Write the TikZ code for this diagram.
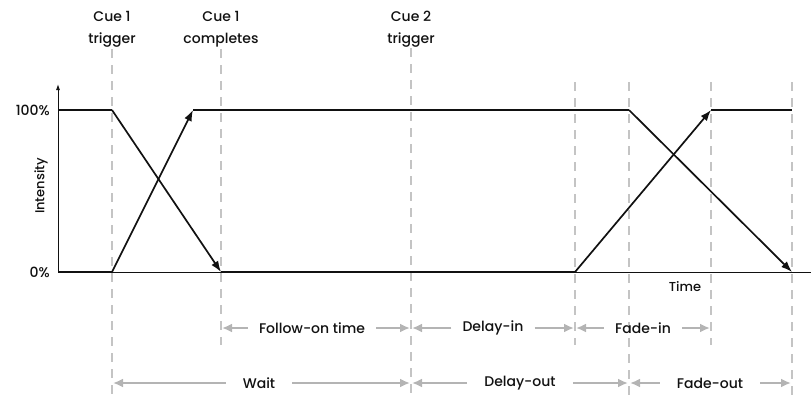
\documentclass[tikz,border=0pt]{standalone}
\usepackage{fontspec}
\setmainfont{Poppins}[UprightFont=* Medium]
\usetikzlibrary{arrows.meta}
\definecolor{guidegray}{HTML}{C4C4C4}
\definecolor{spangray}{HTML}{B4B4B4}
\definecolor{ink}{HTML}{111111}
\begin{document}
\begin{tikzpicture}[x=1pt,y=-1pt,
 guide/.style={draw=guidegray, line width=1.1pt, dash pattern=on 9pt off 7pt},
 curve/.style={draw=ink, line width=1.7pt, line join=miter},
 tipped/.style={curve, -{Latex[length=11pt,width=8pt]}},
 axis/.style={draw=ink, line width=0.9pt},
 span/.style={draw=spangray, line width=2pt, -{Latex[length=10pt,width=9pt]}},
 lab/.style={font=\fontsize{14}{22}\selectfont, align=center, inner sep=0pt, text=ink},
 spanlab/.style={font=\fontsize{14}{17}\selectfont, inner xsep=11pt, inner ysep=0pt, text=ink},
 ylab/.style={font=\fontsize{14}{17}\selectfont, anchor=east, inner sep=0pt, text=ink}]
\useasboundingbox (0,0) rectangle (811,400);

% guide lines
\draw[guide] (112,49) -- (112,400);
\draw[guide] (221,49) -- (221,345);
\draw[guide] (411,48) -- (411,400);
\draw[guide] (575,82) -- (575,345);
\draw[guide] (629,82) -- (629,400);
\draw[guide] (711,82) -- (711,345);
\draw[guide] (792,82) -- (792,400);

% top labels
\node[lab] (c1t) at (112,29) {Cue 1\\trigger};
\node[lab] (c1c) at (221,29) {Cue 1\\completes};
\node[lab] (c2t) at (411,29) {Cue 2\\trigger};

% axes
\coordinate (o) at (58,272);
\coordinate (ytop) at (58,84);
\coordinate (xend) at (811,272);
\draw[axis, -{Latex[length=6pt,width=4pt]}] (o) -- (ytop);
\draw[axis] (o) -- (xend);
\node[ylab] (p100) at (50,110) {100\%};
\node[ylab] (p0) at (50,272) {0\%};
\node[font=\fontsize{13}{15}\selectfont, rotate=90, inner sep=0pt, text=ink] (int) at (41,186) {Intensity};
\node[font=\fontsize{13}{15}\selectfont, inner sep=0pt, text=ink] (time) at (685,287) {Time};

% curve A (cue 1 out, cue 2 in)
\coordinate (a0) at (58,110);
\coordinate (a1) at (112,110);
\coordinate (a2) at (221,272);
\coordinate (a3) at (575,272);
\coordinate (a4) at (711,110);
\coordinate (a5) at (792,110);
\draw[curve] (a0) -- (a1);
\draw[tipped] (a1) -- (a2);
\draw[curve] (a2) -- (a3);
\draw[tipped] (a3) -- (a4);
\draw[curve] (a4) -- (a5);

% curve B
\coordinate (b0) at (58,272);
\coordinate (b1) at (112,272);
\coordinate (b2) at (193,110);
\coordinate (b3) at (629,110);
\coordinate (b4) at (792,272);
\draw[curve] (b0) -- (b1);
\draw[tipped] (b1) -- (b2);
\draw[curve] (b2) -- (b3);
\draw[tipped] (b3) -- (b4);

% spans row 1
\coordinate (r1a) at (222,328);
\coordinate (r1b) at (410,328);
\coordinate (r1c) at (412,328);
\coordinate (r1d) at (574,328);
\coordinate (r1e) at (576,328);
\coordinate (r1f) at (710,328);
\node[spanlab] (fo) at (312,328) {Follow-on time};
\node[spanlab] (di) at (493,328) {Delay-in};
\node[spanlab] (fi) at (643,328) {Fade-in};
\draw[span] (fo.west) -- (r1a);
\draw[span] (fo.east) -- (r1b);
\draw[span] (di.west) -- (r1c);
\draw[span] (di.east) -- (r1d);
\draw[span] (fi.west) -- (r1e);
\draw[span] (fi.east) -- (r1f);

% spans row 2
\coordinate (r2a) at (113,383);
\coordinate (r2b) at (410,383);
\coordinate (r2c) at (412,383);
\coordinate (r2d) at (628,383);
\coordinate (r2e) at (630,383);
\coordinate (r2f) at (791,383);
\node[spanlab, inner xsep=17pt] (wt) at (259,383) {Wait};
\node[spanlab, inner xsep=17pt] (dou) at (520,383) {Delay-out};
\node[spanlab, inner xsep=17pt] (fou) at (710,383) {Fade-out};
\draw[span] (wt.west) -- (r2a);
\draw[span] (wt.east) -- (r2b);
\draw[span] (dou.west) -- (r2c);
\draw[span] (dou.east) -- (r2d);
\draw[span] (fou.west) -- (r2e);
\draw[span] (fou.east) -- (r2f);
\end{tikzpicture}
\end{document}
